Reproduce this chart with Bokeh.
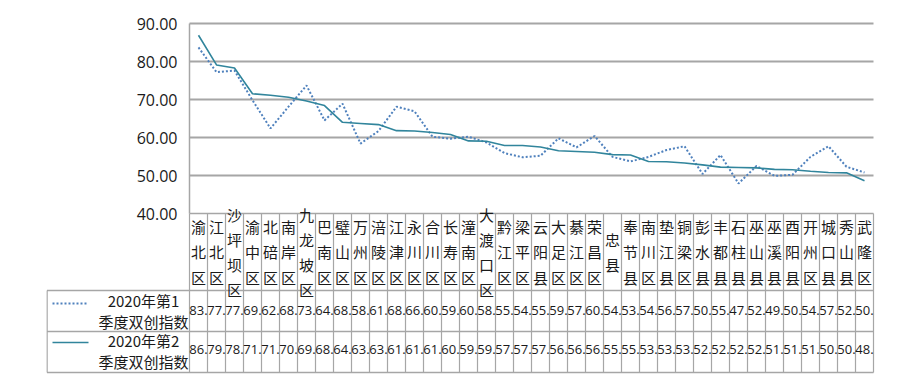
from bokeh.plotting import figure
from bokeh.models import Range1d, LinearAxis, FixedTicker, PrintfTickFormatter
from bokeh.core.properties import value
from bokeh.embed import file_html
from bokeh.resources import INLINE

districts = ["渝北区", "江北区", "沙坪坝区", "渝中区", "北碚区", "南岸区", "九龙坡区", "巴南区",
             "璧山区", "万州区", "涪陵区", "江津区", "永川区", "合川区", "长寿区", "潼南区",
             "大渡口区", "黔江区", "梁平区", "云阳县", "大足区", "綦江区", "荣昌区", "忠县",
             "奉节县", "南川区", "垫江县", "铜梁区", "彭水县", "丰都县", "石柱县", "巫山县",
             "巫溪县", "酉阳县", "开州区", "城口县", "秀山县", "武隆区"]
q1_values = [83.7, 77.2, 77.6, 69.8, 62.4, 68.1, 73.7, 64.5, 68.9, 58.4, 61.7, 68.1, 66.9,
             60.2, 59.7, 60.2, 58.7, 55.9, 54.8, 55.2, 59.8, 57.4, 60.4, 54.9, 53.7, 54.9,
             56.7, 57.7, 50.4, 55.4, 47.9, 52.5, 49.9, 50.2, 54.9, 57.7, 52.3, 50.8]
q2_values = [86.9, 79.1, 78.3, 71.5, 71.1, 70.6, 69.6, 68.4, 64.0, 63.7, 63.4, 61.8, 61.7,
             61.3, 60.8, 59.1, 59.0, 57.9, 57.9, 57.5, 56.5, 56.3, 56.1, 55.5, 55.4, 53.7,
             53.6, 53.3, 52.8, 52.2, 52.1, 52.0, 51.6, 51.5, 51.1, 50.8, 50.7, 48.6]
series_names = ["2020年第1\n季度双创指数", "2020年第2\n季度双创指数"]
y_ticks = [40, 50, 60, 70, 80, 90]

# ---- layout constants (pixels) ----
COL_PX = 18.0          # width of one category column
LEGEND_PX = 143.0      # width of legend column left of the plot area
UNIT_PX = 3.8          # pixels per index point
TABLE_PX = 159.0       # table height below the 40 line
PAD = 2.0
PAD_TOP = 12.0

n = len(districts)
idx = list(range(n))
x_left = -0.5 - LEGEND_PX / COL_PX
x_right = n - 0.5 + PAD / COL_PX
y_bottom = y_ticks[0] - (TABLE_PX + PAD) / UNIT_PX
y_top = y_ticks[-1] + PAD_TOP / UNIT_PX

frame_w = (x_right - x_left) * COL_PX
frame_h = (y_top - y_bottom) * UNIT_PX
b_left, b_right, b_top, b_bottom = 46, 21, 11, 6

p = figure(width=int(round(b_left + frame_w + b_right)),
           height=int(round(b_top + frame_h + b_bottom)),
           x_range=Range1d(x_left, x_right), y_range=Range1d(y_bottom, y_top),
           x_axis_location=None, y_axis_location=None,
           toolbar_location=None, output_backend="svg",
           min_border_left=b_left, min_border_right=b_right,
           min_border_top=b_top, min_border_bottom=b_bottom)
p.outline_line_color = None
p.xgrid.visible = False
p.ygrid.visible = False
p.background_fill_color = "white"

# table coordinates in pixels measured up from the table bottom
p.extra_y_ranges = {"tbl": Range1d(-PAD, -PAD + frame_h)}
ROW_H = 41.0
cat_top = TABLE_PX
r1_top = 2 * ROW_H
r2_top = ROW_H

GRID = "#A6A6A6"
TXT = "#1A1A1A"
Q1_COLOR = "#4F81BD"
Q2_COLOR = "#31859C"

# horizontal gridlines
grid_ticks = y_ticks[1:]
p.segment(x0=[-0.5] * len(grid_ticks), x1=[n - 0.5] * len(grid_ticks),
          y0=grid_ticks, y1=grid_ticks, line_color=GRID, line_width=1.8)

# y axis with labels
ax = LinearAxis(fixed_location=-0.5, ticker=FixedTicker(ticks=y_ticks),
                formatter=PrintfTickFormatter(format="%.2f"), bounds=(y_ticks[0], y_ticks[-1]))
ax.axis_line_color = GRID
ax.axis_line_width = 1.5
ax.major_tick_in = 0
ax.major_tick_out = 0
ax.minor_tick_in = 0
ax.minor_tick_out = 0
ax.major_label_standoff = 12
ax.major_label_text_font = "Open Sans"
ax.major_label_text_font_size = "16px"
ax.major_label_text_color = TXT
p.add_layout(ax, "left")

# table lines
p.segment(x0=[-0.5], x1=[n - 0.5], y0=[cat_top], y1=[cat_top],
          line_color=GRID, line_width=1.5, y_range_name="tbl")
p.segment(x0=[x_left + 0.5 / COL_PX] * 3, x1=[n - 0.5] * 3, y0=[r1_top, r2_top, 0], y1=[r1_top, r2_top, 0],
          line_color=GRID, line_width=1.5, y_range_name="tbl")
vx = [k - 0.5 for k in range(n + 1)]
p.segment(x0=vx, x1=vx, y0=[0] * len(vx), y1=[cat_top] * len(vx),
          line_color=GRID, line_width=1.2, y_range_name="tbl")
p.segment(x0=[x_left + 0.5 / COL_PX], x1=[x_left + 0.5 / COL_PX], y0=[0], y1=[r1_top],
          line_color=GRID, line_width=1.5, y_range_name="tbl")

# series lines
p.line(x=idx, y=q1_values, line_color=Q1_COLOR, line_width=2, line_dash="2 2")
p.line(x=idx, y=q2_values, line_color=Q2_COLOR, line_width=1.6)

# category labels (vertical)
p.text(x=idx, y=[(cat_top + r1_top) / 2] * n, text=["\n".join(d) for d in districts],
       y_range_name="tbl", text_align="center", text_baseline="middle",
       text_font=value("Noto Sans CJK SC"), text_font_size="15px", text_line_height=1.2,
       text_color=TXT)

# values in table
p.text(x=idx, y=[(r1_top + r2_top) / 2 + 1] * n, text=[f"{v:.2f}"[:3] for v in q1_values],
       y_range_name="tbl", text_align="center", text_baseline="middle",
       text_font=value("Open Sans"), text_font_size="13px", text_color=TXT)
p.text(x=idx, y=[r2_top / 2 + 3] * n, text=[f"{v:.2f}"[:3] for v in q2_values],
       y_range_name="tbl", text_align="center", text_baseline="middle",
       text_font=value("Open Sans"), text_font_size="13px", text_color=TXT)

# legend cells
lx0 = -0.5 - 137 / COL_PX
lx1 = -0.5 - 101 / COL_PX
p.line(x=[lx0, lx1], y=[r1_top - 13] * 2, y_range_name="tbl",
       line_color=Q1_COLOR, line_width=2, line_dash="2 2")
p.line(x=[lx0, lx1], y=[r2_top - 11] * 2, y_range_name="tbl",
       line_color=Q2_COLOR, line_width=1.6)
tx = -0.5 - 46 / COL_PX
p.text(x=[tx, tx], y=[(r1_top + r2_top) / 2, r2_top / 2 + 1], text=series_names,
       y_range_name="tbl", text_align="center", text_baseline="middle",
       text_font=value("Noto Sans CJK SC"), text_font_size="15px", text_line_height=1.0,
       text_color=TXT)

open("out.html", "w").write(file_html(p, INLINE))
